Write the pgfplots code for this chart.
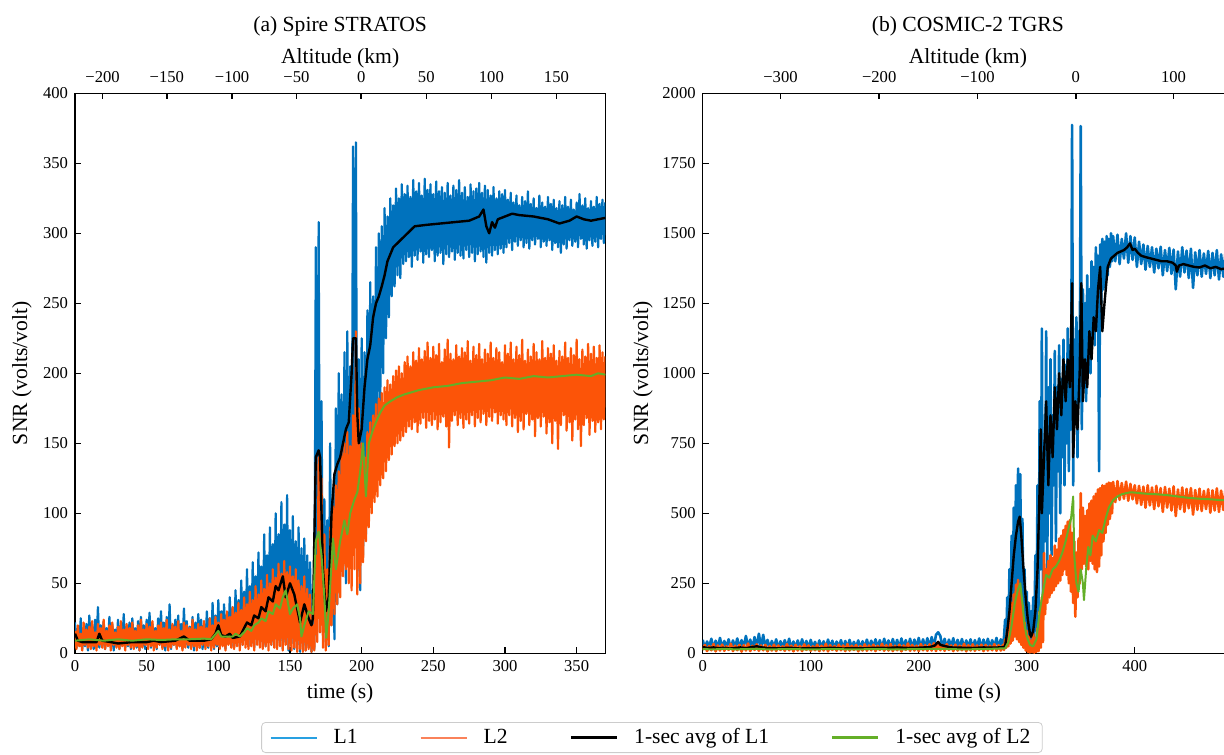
\documentclass[border=0pt]{standalone}
\usepackage{fontspec}
\setmainfont{Liberation Serif}
\usepackage{pgfplots}
\pgfplotsset{compat=1.18}

\definecolor{cL1}{RGB}{0,114,189}
\definecolor{cL2}{RGB}{252,84,8}
\definecolor{cA2}{RGB}{100,175,40}
\definecolor{lgL1}{RGB}{40,160,225}
\definecolor{lgL2}{RGB}{250,130,90}

\pgfplotsset{
  panel/.style={
    scale only axis, width=265.15pt, height=280pt, anchor=south west,
    axis line style={line width=0.75pt},
    every tick/.style={black,line width=0.75pt},
    major tick length=3pt, tick align=inside, tick pos=left,
    ticklabel style={font=\fontsize{8.3}{10}\selectfont},
    label style={font=\fontsize{10.8}{13}\selectfont},
    /pgf/number format/assume math mode=true,
    /pgf/number format/1000 sep={},
    scaled ticks=false, enlargelimits=false,
    xlabel={time (s)}, ylabel={SNR (volts/volt)},
    xlabel style={at={(axis description cs:0.5,-0.0714)},anchor=center},
  },
  toppanel/.style={
    scale only axis, width=265.15pt, height=280pt, anchor=south west,
    axis x line*=top, hide y axis, ymin=0, ymax=1,
    axis line style={line width=0.75pt},
    every tick/.style={black,line width=0.75pt},
    major tick length=3pt, tick align=inside,
    ticklabel style={font=\fontsize{8.3}{10}\selectfont},
    xticklabel style={yshift=2pt},
    label style={font=\fontsize{10.8}{13}\selectfont},
    xlabel={Altitude (km)},
    xlabel style={at={(axis description cs:0.5,1.0625)},anchor=center},
    title style={at={(axis description cs:0.5,1.098)},anchor=center,yshift=0pt,
      font=\fontsize{10.8}{13}\selectfont},
    enlargelimits=false,
  },
  raw1/.style={color=cL1, line width=1.1pt, line join=round},
  raw2/.style={color=cL2, line width=1.1pt, line join=round},
  avg1/.style={color=black, line width=1.2pt, line join=round},
  avg2/.style={color=cA2, line width=1.0pt, line join=round},
}

\begin{document}
\begin{tikzpicture}
\useasboundingbox (0,0) rectangle (612pt,377pt);
\clip (0,0) rectangle (612pt,377pt);

% ---------------- (a) Spire STRATOS ----------------
\begin{axis}[panel, at={(37.5pt,50.35pt)},
  xmin=0, xmax=370, ymin=0, ymax=400,
  xtick={0,50,...,350}, ytick={0,50,...,400},
  ylabel style={at={(axis description cs:-0.1,0.5)},anchor=center},
  legend style={at={(axis description cs:1.088,-0.1227)}, anchor=north,
    legend columns=4, draw=black!20, rounded corners=2pt,
    font=\fontsize{10.8}{13}\selectfont,
    /tikz/every odd column/.append style={column sep=6pt},
    /tikz/every even column/.append style={column sep=29pt},
    inner xsep=4pt, inner ysep=1pt},
  legend cell align=left,
  legend image code/.code={\draw[#1] (0pt,0pt) -- (23pt,0pt);},
]
\addplot[raw1, forget plot] coordinates {
(0,22)(1,4)(2,18)(3,6)(4,25)(5,3)(6,16)(7,5)(8,21)(9,2)(10,27)(11,5)(12,19)(13,3)(14,24)(15,6)(16,33)(17,4)(18,20)(19,5)
(20,23)(21,3)(22,18)(23,6)(24,26)(25,4)(26,21)(27,2)(28,17)(29,5)(30,24)(31,3)(32,20)(33,6)(34,28)(35,4)(36,19)(37,5)(38,22)(39,3)
(40,25)(41,6)(42,18)(43,4)(44,23)(45,2)(46,26)(47,5)(48,20)(49,3)(50,24)(51,6)(52,29)(53,4)(54,21)(55,5)(56,18)(57,3)(58,25)(59,6)
(60,30)(61,4)(62,22)(63,2)(64,26)(65,5)(66,35)(67,3)(68,20)(69,6)(70,24)(71,4)(72,27)(73,5)(74,21)(75,3)(76,32)(77,6)(78,23)(79,4)
(80,19)(81,5)(82,26)(83,2)(84,22)(85,6)(86,28)(87,4)(88,24)(89,3)(90,20)(91,5)(92,30)(93,4)(94,25)(95,6)(96,36)(97,3)(98,27)(99,5)
(100,38)(101,4)(102,30)(103,6)(104,35)(105,3)(106,28)(107,7)(108,40)(109,5)(110,33)(111,4)(112,45)(113,8)(114,38)(115,5)(116,52)(117,6)(118,44)(119,9)
(120,60)(121,5)(122,48)(123,7)(124,65)(125,4)(126,55)(127,10)(128,72)(129,6)(130,62)(131,8)(132,85)(133,5)(134,70)(135,12)(136,90)(137,6)(138,78)(139,10)
(140,100)(141,4)(142,85)(143,9)(144,108)(145,3)(146,92)(147,8)(148,113)(149,2)(150,88)(151,7)(152,98)(153,3)(154,80)(155,6)(156,90)(157,1)(158,75)(159,5)
(160,82)(161,2)(162,70)(163,4)(164,65)(165,1)(166,45)(167,3)(168,290)(169,40)(170,308)(171,15)(172,180)(173,25)(174,110)(175,8)(176,95)(177,5)(178,150)(179,20)
(180,110)(181,10)(182,175)(183,35)(184,200)(185,55)(186,185)(187,70)(188,215)(189,50)(190,230)(191,90)(192,205)(193,75)(194,362)(195,140)(196,365)(197,55)(198,210)(199,45)
(200,225)(201,70)(202,215)(203,85)(204,245)(205,110)(206,265)(207,120)(208,255)(209,145)(210,290)(211,165)(212,300)(213,180)(214,305)(215,200)(216,318)(217,225)(218,312)(219,240)
(220,325)(221,255)(222,320)(223,262)(224,332)(225,270)(226,325)(227,268)(228,335)(229,278)(230,328)(231,280)(232,334)(233,283)(234,326)(235,276)(236,338)(237,284)(238,330)(239,281)
(240,336)(241,287)(242,327)(243,279)(244,339)(245,285)(246,331)(247,283)(248,335)(249,288)(250,328)(251,280)(252,337)(253,284)(254,330)(255,286)(256,333)(257,278)(258,329)(259,285)
(260,336)(261,283)(262,327)(263,287)(264,334)(265,281)(266,331)(267,286)(268,338)(269,284)(270,329)(271,282)(272,333)(273,288)(274,326)(275,283)(276,335)(277,286)(278,330)(279,280)
(280,332)(281,285)(282,336)(283,287)(284,329)(285,283)(286,334)(287,279)(288,331)(289,286)(290,327)(291,284)(292,333)(293,288)(294,325)(295,285)(296,330)(297,289)(298,328)(299,286)
(300,331)(301,290)(302,324)(303,293)(304,329)(305,288)(306,322)(307,294)(308,327)(309,291)(310,320)(311,295)(312,326)(313,290)(314,323)(315,293)(316,330)(317,289)(318,321)(319,295)
(320,325)(321,292)(322,318)(323,296)(324,327)(325,290)(326,322)(327,294)(328,319)(329,291)(330,326)(331,295)(332,321)(333,288)(334,324)(335,293)(336,318)(337,290)(338,323)(339,286)
(340,320)(341,292)(342,326)(343,289)(344,319)(345,295)(346,324)(347,291)(348,317)(349,294)(350,322)(351,290)(352,328)(353,296)(354,320)(355,292)(356,325)(357,289)(358,318)(359,295)
(360,323)(361,291)(362,319)(363,294)(364,326)(365,290)(366,321)(367,296)(368,324)(369,293)(370,322)
};
\addplot[raw2, forget plot] coordinates {
(0,16)(1,3)(2,20)(3,5)(4,14)(5,2)(6,22)(7,6)(8,17)(9,4)(10,19)(11,3)(12,23)(13,5)(14,15)(15,2)(16,21)(17,6)(18,18)(19,4)
(20,24)(21,3)(22,16)(23,5)(24,20)(25,2)(26,22)(27,6)(28,15)(29,4)(30,19)(31,3)(32,23)(33,5)(34,17)(35,2)(36,21)(37,6)(38,18)(39,4)
(40,22)(41,3)(42,16)(43,5)(44,20)(45,2)(46,24)(47,4)(48,17)(49,6)(50,21)(51,3)(52,19)(53,5)(54,23)(55,2)(56,16)(57,4)(58,20)(59,6)
(60,22)(61,3)(62,18)(63,5)(64,24)(65,2)(66,17)(67,4)(68,21)(69,6)(70,19)(71,3)(72,23)(73,5)(74,16)(75,2)(76,22)(77,4)(78,20)(79,6)
(80,18)(81,3)(82,24)(83,5)(84,17)(85,2)(86,21)(87,4)(88,19)(89,6)(90,23)(91,3)(92,18)(93,5)(94,25)(95,2)(96,20)(97,4)(98,26)(99,6)
(100,22)(101,3)(102,28)(103,5)(104,24)(105,2)(106,30)(107,6)(108,26)(109,4)(110,33)(111,3)(112,29)(113,5)(114,36)(115,2)(116,31)(117,6)(118,40)(119,4)
(120,35)(121,3)(122,44)(123,5)(124,38)(125,2)(126,48)(127,6)(128,42)(129,4)(130,52)(131,3)(132,46)(133,5)(134,56)(135,2)(136,50)(137,6)(138,60)(139,4)
(140,54)(141,3)(142,64)(143,5)(144,57)(145,2)(146,66)(147,6)(148,58)(149,3)(150,62)(151,2)(152,55)(153,4)(154,60)(155,1)(156,52)(157,3)(158,48)(159,1)
(160,55)(161,2)(162,46)(163,3)(164,42)(165,1)(166,20)(167,2)(168,70)(169,8)(170,140)(171,15)(172,125)(173,4)(174,85)(175,2)(176,60)(177,6)(178,90)(179,20)
(180,105)(181,28)(182,120)(183,35)(184,130)(185,40)(186,145)(187,55)(188,150)(189,60)(190,158)(191,50)(192,148)(193,45)(194,170)(195,60)(196,230)(197,42)(198,175)(199,50)
(200,150)(201,65)(202,140)(203,80)(204,158)(205,90)(206,165)(207,100)(208,170)(209,108)(210,178)(211,112)(212,182)(213,120)(214,186)(215,125)(216,190)(217,130)(218,195)(219,138)
(220,192)(221,142)(222,198)(223,148)(224,202)(225,150)(226,205)(227,152)(228,200)(229,155)(230,208)(231,158)(232,212)(233,162)(234,205)(235,160)(236,215)(237,165)(238,209)(239,158)
(240,218)(241,164)(242,210)(243,168)(244,216)(245,161)(246,222)(247,166)(248,211)(249,163)(250,219)(251,167)(252,213)(253,160)(254,221)(255,165)(256,208)(257,169)(258,217)(259,162)
(260,224)(261,147)(262,214)(263,166)(264,210)(265,170)(266,220)(267,163)(268,212)(269,168)(270,218)(271,161)(272,215)(273,167)(274,223)(275,164)(276,209)(277,170)(278,219)(279,162)
(280,213)(281,168)(282,221)(283,165)(284,210)(285,171)(286,217)(287,163)(288,214)(289,169)(290,222)(291,166)(292,211)(293,172)(294,218)(295,164)(296,215)(297,170)(298,208)(299,167)
(300,220)(301,163)(302,214)(303,170)(304,222)(305,162)(306,210)(307,168)(308,219)(309,158)(310,213)(311,166)(312,224)(313,160)(314,209)(315,171)(316,217)(317,163)(318,212)(319,167)
(320,221)(321,155)(322,215)(323,168)(324,210)(325,162)(326,223)(327,169)(328,211)(329,157)(330,218)(331,165)(332,214)(333,150)(334,220)(335,166)(336,209)(337,146)(338,216)(339,163)
(340,212)(341,170)(342,222)(343,159)(344,211)(345,165)(346,218)(347,152)(348,213)(349,167)(350,224)(351,160)(352,210)(353,148)(354,217)(355,163)(356,212)(357,168)(358,221)(359,156)
(360,214)(361,166)(362,219)(363,158)(364,211)(365,165)(366,220)(367,160)(368,215)(369,167)(370,212)
};
\addplot[avg1, forget plot] coordinates {
(0,14)(2,9)(5,8)(10,8)(15,8)(17,14)(19,9)(25,8)(30,7)(40,8)(50,8)(55,9)(60,8)(70,9)(76,12)(80,9)(90,9)(95,10)(98,14)(100,20)
(102,13)(105,12)(108,14)(110,11)(115,12)(118,18)(120,22)(123,20)(125,27)(128,25)(130,33)(133,30)(135,40)(138,37)(140,48)(142,45)(145,55)(147,40)(150,50)(153,42)
(155,32)(157,22)(160,35)(163,25)(165,20)(166,25)(168,140)(170,145)(171,140)(173,60)(175,30)(177,40)(179,100)(181,128)(183,135)(185,140)(187,150)(189,160)(191,165)(193,200)
(194,225)(196,225)(197,170)(198,150)(200,160)(202,190)(204,210)(206,220)(208,240)(210,250)(212,255)(214,262)(216,270)(218,280)(220,285)(222,290)(225,293)(228,296)(232,300)(237,305)
(245,306)(255,307)(265,308)(275,309)(282,312)(285,317)(287,305)(289,300)(291,308)(293,304)(295,310)(300,312)(305,314)(310,313)(320,312)(330,310)(338,307)(345,309)(350,312)(355,310)
(360,309)(365,310)(370,311)
};
\addplot[avg2, forget plot] coordinates {
(0,9)(5,9.5)(10,10)(20,9)(30,10)(40,9)(50,10)(60,9.5)(70,10)(80,10)(90,10.5)(95,10)(100,16)(102,12)(110,12)(112,14)(115,12)(118,15)(120,18)(123,16)
(125,20)(128,22)(130,25)(133,23)(135,30)(138,28)(140,35)(143,32)(145,40)(147,45)(150,28)(152,32)(155,35)(157,25)(158,12)(160,20)(163,30)(166,28)(168,80)(170,87)
(172,70)(174,40)(175.3,11)(177,30)(180,82)(182,60)(185,80)(188,95)(190,85)(192,100)(195,110)(197,115)(199,130)(201,150)(203,112)(205,150)(208,160)(210,165)(213,172)(216,177)
(220,180)(225,183)(230,185)(240,188)(250,190)(260,191)(270,193)(280,194)(290,195)(300,197)(310,196)(320,198)(330,197)(340,198)(350,199)(360,198)(365,200)(370,199)
};
\addlegendimage{draw=lgL1, line width=1.0pt}
\addlegendentry{L1}
\addlegendimage{draw=lgL2, line width=1.0pt}
\addlegendentry{L2}
\addlegendimage{draw=black, line width=1.3pt}
\addlegendentry{1-sec avg of L1}
\addlegendimage{draw=cA2, line width=1.1pt}
\addlegendentry{1-sec avg of L2}
\end{axis}
\begin{axis}[toppanel, at={(37.5pt,50.35pt)}, xmin=0, xmax=370,
  xtick={19.2,64.1,109.6,154.5,199.7,245.1,290.5,335.9},
  xticklabels={−200,−150,−100,−50,0,50,100,150},
  title={(a) Spire STRATOS}]
\end{axis}

% ---------------- (b) COSMIC-2 TGRS ----------------
\begin{axis}[panel, at={(351.35pt,50.35pt)},
  xmin=0, xmax=491, ymin=0, ymax=2000,
  xtick={0,100,...,400}, ytick={0,250,...,2000},
  ylabel style={at={(axis description cs:-0.1126,0.5)},anchor=center},
]
\addplot[raw1, line width=1.3pt] coordinates {
(0,48)(2,18)(4,42)(6,22)(8,52)(10,16)(12,45)(14,20)(16,55)(18,19)(20,44)(22,23)(24,50)(26,17)(28,46)(30,21)(32,53)(34,18)(36,47)(38,22)
(40,62)(42,20)(44,49)(46,16)(48,58)(50,21)(52,70)(54,19)(56,66)(58,22)(60,48)(62,18)(64,44)(66,20)(68,50)(70,17)(72,43)(74,22)(76,47)(78,19)
(80,52)(82,16)(84,42)(86,21)(88,46)(90,18)(92,50)(94,22)(96,44)(98,17)(100,48)(102,20)(104,41)(106,18)(108,46)(110,21)(112,43)(114,17)(116,49)(118,20)
(120,45)(122,19)(124,42)(126,22)(128,47)(130,16)(132,44)(134,20)(136,48)(138,18)(140,41)(142,21)(144,46)(146,17)(148,43)(150,20)(152,49)(154,18)(156,45)(158,22)
(160,50)(162,19)(164,47)(166,16)(168,52)(170,21)(172,46)(174,18)(176,51)(178,20)(180,48)(182,17)(184,53)(186,21)(188,47)(190,19)(192,52)(194,18)(196,49)(198,22)
(200,55)(202,17)(204,50)(206,20)(208,54)(210,19)(212,58)(214,21)(216,66)(218,75)(220,62)(222,20)(224,52)(226,18)(228,49)(230,21)(232,54)(234,17)(236,48)(238,20)
(240,51)(242,19)(244,46)(246,22)(248,50)(250,18)(252,47)(254,20)(256,53)(258,17)(260,49)(262,21)(264,52)(266,19)(268,47)(270,22)(272,55)(274,18)(276,50)(278,24)
(279,60)(280,120)(281,40)(282,200)(283,60)(284,300)(285,90)(286,420)(287,120)(288,520)(289,150)(290,600)(291,180)(292,660)(293,200)(294,640)(295,150)(296,480)(297,100)(298,300)
(299,70)(300,220)(301,50)(302,180)(303,40)(304,150)(305,30)(306,200)(307,50)(308,350)(309,80)(310,600)(311,150)(312,900)(313,300)(314,1160)(315,200)(316,750)(317,400)(318,1150)
(319,300)(320,950)(321,500)(322,1050)(323,350)(324,850)(325,600)(326,1080)(327,400)(328,950)(329,650)(330,1100)(331,500)(332,980)(333,700)(334,1120)(335,600)(336,1030)(337,750)(338,1160)
(339,650)(340,1100)(341,800)(342,1887)(343,600)(344,1120)(345,850)(346,1200)(347,700)(348,1150)(349,900)(350,1883)(351,800)(352,1300)(353,1000)(354,1250)(355,900)(356,1350)(357,1100)(358,1300)
(359,1000)(360,1400)(361,1150)(362,1380)(363,1100)(364,1450)(365,1200)(366,1420)(367,650)(368,1460)(369,1250)(370,1480)(371,1300)(372,1470)(373,1330)(374,1490)(375,1350)(376,1480)(377,1380)(378,1500)
(379,1400)(380,1490)(382,1400)(384,1495)(386,1390)(388,1480)(390,1410)(392,1500)(394,1395)(396,1490)(398,1405)(400,1485)(402,1380)(404,1470)(406,1390)(408,1460)(410,1370)(412,1455)(414,1380)(416,1450)
(418,1360)(420,1445)(422,1375)(424,1452)(426,1350)(428,1440)(430,1365)(432,1448)(434,1355)(436,1442)(438,1300)(440,1435)(442,1345)(444,1450)(446,1360)(448,1438)(450,1340)(452,1445)(454,1305)(456,1432)
(458,1350)(460,1440)(462,1345)(464,1428)(466,1355)(468,1437)(470,1340)(472,1430)(474,1350)(476,1440)(478,1335)(480,1425)(482,1345)(484,1432)(486,1340)(488,1420)(490,1350)
};
\addplot[raw2, line width=1.3pt] coordinates {
(0,12)(2,30)(4,8)(6,26)(8,11)(10,33)(12,7)(14,28)(16,10)(18,31)(20,9)(22,25)(24,12)(26,34)(28,8)(30,27)(32,11)(34,30)(36,6)(38,29)
(40,10)(42,35)(44,8)(46,27)(48,12)(50,32)(52,9)(54,28)(56,11)(58,30)(60,7)(62,26)(64,10)(66,31)(68,8)(70,28)(72,12)(74,25)(76,9)(78,33)
(80,11)(82,27)(84,7)(86,30)(88,10)(90,26)(92,8)(94,32)(96,12)(98,28)(100,9)(102,25)(104,11)(106,31)(108,8)(110,27)(112,10)(114,34)(116,7)(118,29)
(120,12)(122,26)(124,9)(126,31)(128,11)(130,28)(132,8)(134,33)(136,10)(138,27)(140,12)(142,30)(144,7)(146,26)(148,10)(150,32)(152,9)(154,28)(156,11)(158,31)
(160,8)(162,27)(164,12)(166,34)(168,9)(170,29)(172,10)(174,33)(176,8)(178,27)(180,11)(182,31)(184,7)(186,28)(188,12)(190,35)(192,9)(194,30)(196,10)(198,27)
(200,8)(202,33)(204,11)(206,29)(208,9)(210,32)(212,10)(214,36)(216,8)(218,40)(220,11)(222,30)(224,9)(226,33)(228,12)(230,28)(232,8)(234,31)(236,10)(238,27)
(240,11)(242,34)(244,7)(246,29)(248,10)(250,32)(252,9)(254,28)(256,12)(258,31)(260,8)(262,30)(264,10)(266,27)(268,11)(270,33)(272,9)(274,29)(276,10)(278,30)
(279,12)(280,50)(281,20)(282,90)(283,25)(284,140)(285,35)(286,180)(287,45)(288,210)(289,60)(290,245)(291,50)(292,262)(293,40)(294,230)(295,30)(296,170)(297,20)(298,110)
(299,10)(300,80)(301,5)(302,60)(303,3)(304,45)(305,4)(306,70)(307,2)(308,55)(309,5)(310,90)(311,8)(312,150)(313,20)(314,200)(315,40)(316,358)(317,140)(318,300)
(319,180)(320,330)(321,200)(322,350)(323,215)(324,340)(325,225)(326,385)(327,240)(328,370)(329,250)(330,410)(331,260)(332,420)(333,280)(334,440)(335,300)(336,455)(337,280)(338,470)
(339,250)(340,476)(341,220)(342,430)(343,180)(344,400)(345,131)(346,360)(347,200)(348,410)(349,250)(350,572)(351,300)(352,520)(353,320)(354,490)(355,310)(356,510)(357,300)(358,535)
(359,330)(360,545)(361,320)(362,560)(363,300)(364,570)(365,290)(366,585)(367,310)(368,590)(369,350)(370,600)(371,400)(372,598)(373,430)(374,605)(375,460)(376,610)(377,480)(378,608)
(379,500)(380,612)(382,540)(384,615)(386,548)(388,608)(390,552)(392,613)(394,545)(396,605)(398,550)(400,600)(402,535)(404,598)(406,530)(408,595)(410,520)(412,600)(414,528)(416,592)
(418,515)(420,598)(422,525)(424,590)(426,505)(428,594)(430,520)(432,588)(434,510)(436,596)(438,490)(440,585)(442,515)(444,592)(446,505)(448,587)(450,518)(452,590)(454,495)(456,583)
(458,512)(460,588)(462,508)(464,580)(466,515)(468,586)(470,502)(472,582)(474,510)(476,589)(478,505)(480,581)(482,512)(484,585)(486,500)(488,580)(490,508)
};
\addplot[avg1] coordinates {
(0,22)(5,19)(10,21)(15,18)(20,20)(25,17)(30,19)(35,21)(40,18)(45,22)(50,25)(55,21)(60,19)(70,18)(80,20)(90,17)(100,19)(110,18)(120,20)(130,17)
(140,19)(150,18)(160,20)(170,19)(180,21)(190,19)(200,20)(210,22)(215,28)(218,41)(220,30)(225,25)(230,21)(240,20)(250,19)(260,21)(270,20)(278,22)(280,25)(282,80)
(284,150)(286,250)(288,350)(290,420)(292,470)(293.5,488)(295,420)(297,300)(299,200)(301,120)(303,70)(304,59)(306,80)(308,150)(310,300)(312,600)(313,800)(314,500)(316,700)(318,900)
(320,600)(322,850)(324,700)(326,950)(328,800)(330,1000)(332,850)(334,1050)(336,900)(338,1050)(340,950)(342,1322)(343,700)(345,900)(347,800)(349,1000)(350.5,1322)(352,900)(354,1050)(356,950)
(358,1150)(360,1050)(362,1200)(364,1150)(366,1300)(368,1380)(370,1150)(372,1250)(375,1380)(378,1410)(381,1420)(384,1430)(387,1435)(390,1440)(393,1450)(395.6,1464)(398,1440)(400,1445)(403,1430)(406,1420)
(410,1415)(415,1410)(420,1405)(425,1400)(430,1400)(435,1395)(438,1385)(439,1363)(441,1385)(445,1390)(450,1385)(455,1380)(460,1378)(465,1385)(470,1375)(475,1380)(480,1372)(485,1375)(490,1370)
};
\addplot[avg2] coordinates {
(0,15)(10,14)(20,16)(30,14)(40,15)(50,16)(60,14)(80,15)(100,14)(120,15)(140,14)(160,15)(180,14)(200,15)(220,16)(240,14)(260,15)(280,18)(283,40)(286,100)
(289,180)(292,230)(294,250)(296,180)(298,100)(300,60)(303,30)(306,25)(309,50)(312,150)(315,220)(318,280)(321,270)(324,300)(327,310)(330,330)(333,360)(336,400)(339,450)(341,480)
(343,560)(344,350)(346,250)(348,220)(350,300)(352,250)(353,190)(355,300)(357,380)(359,350)(361,420)(364,400)(367,440)(370,430)(373,480)(376,520)(380,547)(384,560)(388,568)(392,572)
(396,575)(400,574)(410,570)(420,568)(430,565)(440,560)(450,555)(460,552)(470,550)(480,547)(490,548)
};
\end{axis}
\begin{axis}[toppanel, at={(351.35pt,50.35pt)}, xmin=0, xmax=491,
  xtick={72.0,163.4,254.4,345.4,435.9},
  xticklabels={−300,−200,−100,0,100},
  title={(b) COSMIC-2 TGRS}]
\end{axis}
\end{tikzpicture}
\end{document}
